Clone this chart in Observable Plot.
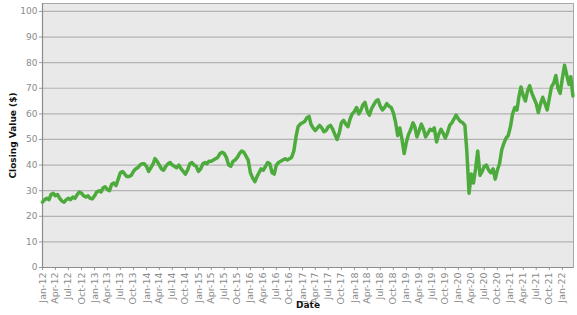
<!DOCTYPE html>
<html>
<head>
<meta charset="utf-8">
<script src="https://cdn.jsdelivr.net/npm/d3@7"></script>
<script src="https://cdn.jsdelivr.net/npm/@observablehq/plot@0.6"></script>
<style>
  html, body { margin: 0; padding: 0; background: #fff; }
  #chart { width: 577px; height: 315px; }
</style>
</head>
<body>
<div id="chart"></div>
<script>
// Semi-monthly closing values (1st and 16th of each month)
const v2012 = [25.5,26.5, 27,26.5, 28.5,29, 28,28.5, 27,26, 25.5,26.5, 27,26.5, 27.5,27, 28.5,29.5, 29,28, 27.5,28, 27,26.8];
const v2013 = [28,29.5, 30,29.5, 31,31.5, 30.5,30, 32.5,33, 32,34.5, 37,37.5, 36.5,35.5, 35.5,36, 37.5,38.5, 39,40, 40.5,40.5];
const v2014 = [39.5,37.5, 39,40.5, 42.5,41.5, 40,38.5, 38,39.5, 40.5,41, 40,39.5, 39,40, 38.5,37.5, 36.5,38, 40.5,41, 40,39.5];
const v2015 = [37.5,38.5, 40.5,41, 40.5,41.5, 41.5,42, 42.5,43, 44.5,45, 44.5,43, 40,39.5, 41.5,42, 43,44.5, 45.5,45, 43.5,42];
const v2016 = [37,35, 33.5,35.5, 37,38.5, 38,39.5, 41,40.5, 37,36.5, 40,41, 41.5,42, 42.5,42, 42.5,43, 45.5,51, 55,56];
const v2017 = [56.5,57, 58.5,59, 56,54.5, 53.5,54.5, 55.5,54.5, 53,53.5, 55,55.5, 54,52, 50,52.5, 56.5,57.5, 56,55, 58,60];
const v2018 = [61,62.5, 60,61.5, 63.5,64.5, 61,59.5, 62,63.5, 65,65.5, 63,61.5, 62.5,64, 63,62.5, 60.5,57, 51.5,54.5, 50,44.5];
const v2019 = [49,52, 54,56.5, 55,51, 53.5,56, 54,51, 52.5,54, 53.5,54.5, 49,52, 54,52.5, 50.5,52.5, 55.5,56.5, 58,59.5];
const v2020 = [58,57, 56.5,55.5, 45,29, 36.5,33, 38.5,45.5, 36,37.5, 39.5,40, 38,37, 38.5,34.5, 38,40.5, 46,48.5, 50.5,51.5];
const v2021 = [55,60, 62.5,61.5, 66.5,70.5, 67,65, 69,71, 68,66, 64,60.5, 64,66.5, 64,61.5, 66,70.5, 72,75, 70,68];
const v2022 = [74,79, 75,71.5, 74.5,67];

const yearSeries = [
  [2012, v2012], [2013, v2013], [2014, v2014], [2015, v2015], [2016, v2016], [2017, v2017],
  [2018, v2018], [2019, v2019], [2020, v2020], [2021, v2021], [2022, v2022]
];
const yTicks = [0, 10, 20, 30, 40, 50, 60, 70, 80, 90, 100];
const xStart = "2012-01-01";
const xEnd = "2022-03-20";
const yTitle = "Closing Value ($)";
const xTitle = "Date";

// Build table: each value sits on the 1st or 16th of its month
const data = [];
for (const [yr, vals] of yearSeries) {
  vals.forEach((v, i) => {
    const month = Math.floor(i / 2);
    const day = i % 2 === 0 ? 1 : 16;
    data.push({date: new Date(Date.UTC(yr, month, day)), value: v});
  });
}
const xTicks = d3.utcMonth.every(3).range(new Date(xStart), new Date("2022-02-01"));

const chart = Plot.plot({
  width: 577,
  height: 315,
  marginLeft: 42,
  marginRight: 4,
  marginTop: 3,
  marginBottom: 48,
  style: {fontFamily: "DejaVu Sans, Verdana, sans-serif", background: "#fff"},
  x: {type: "utc", domain: [new Date(xStart), new Date(xEnd)]},
  y: {domain: [0, 103.1]},
  marks: [
    Plot.frame({fill: "#e9e9e9", stroke: "none"}),
    Plot.gridY(yTicks, {stroke: "#b3b3b3", strokeOpacity: 1, strokeWidth: 1.2}),
    Plot.frame({stroke: "#a8a8a8", strokeWidth: 1}),
    Plot.axisY(yTicks, {
      tickSize: 3, tickPadding: 2, fontSize: 9, color: "#8a8a8a", stroke: "#999",
      label: null
    }),
    Plot.axisX(xTicks, {
      tickSize: 3, tickPadding: 2, fontSize: 9.5, color: "#8a8a8a", stroke: "#999",
      tickRotate: -90, tickFormat: d3.utcFormat("%b-%y"), label: null
    }),
    Plot.ruleX([new Date(xStart)], {stroke: "#8c8c8c", strokeWidth: 1.2}),
    Plot.ruleY([0], {stroke: "#8c8c8c", strokeWidth: 1.2}),
    Plot.lineY(data, {x: "date", y: "value", stroke: "#4dab3d", strokeWidth: 3.5, strokeLinejoin: "round", curve: "linear"}),
    Plot.text([yTitle], {text: d => d, frameAnchor: "left", dx: -29, rotate: -90, fontSize: 9, fontWeight: "bold", fill: "#111", textAnchor: "middle", lineAnchor: "middle"}),
    Plot.text([xTitle], {text: d => d, frameAnchor: "bottom", dy: 38, fontSize: 9, fontWeight: "bold", fill: "#111", textAnchor: "middle", lineAnchor: "middle"})
  ]
});
document.getElementById("chart").appendChild(chart);
</script>
</body>
</html>
